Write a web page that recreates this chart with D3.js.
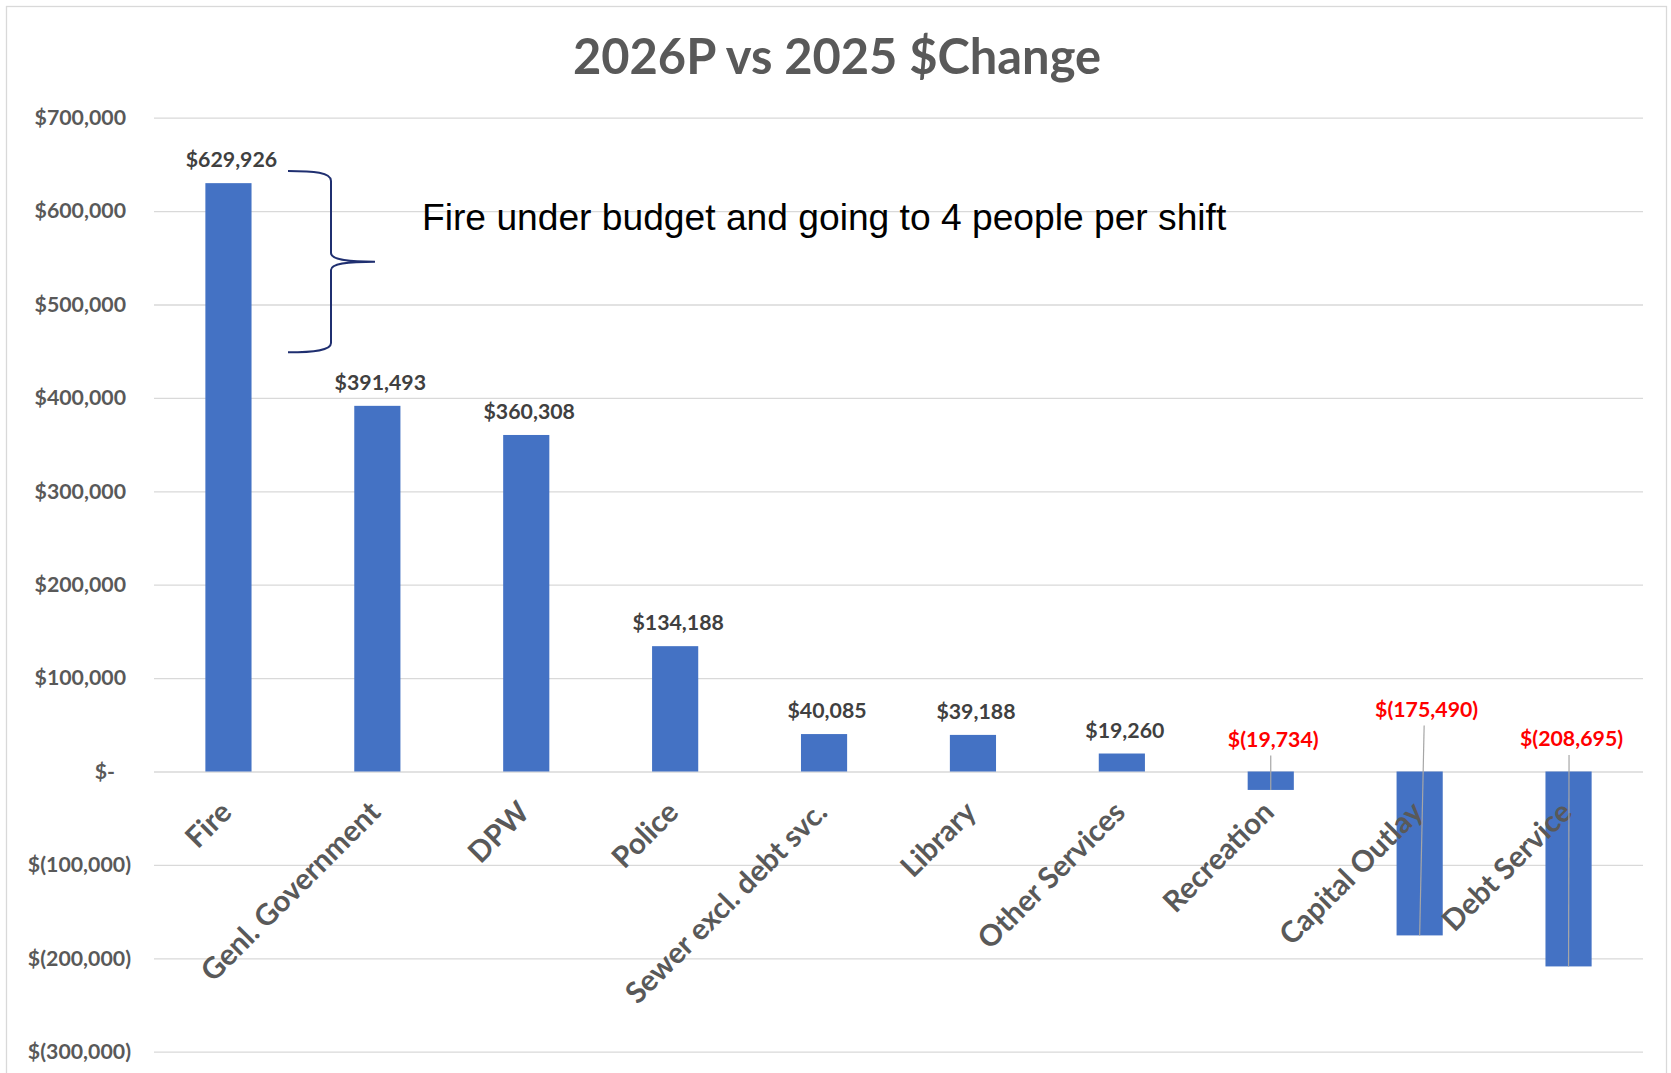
<!DOCTYPE html>
<html>
<head>
<meta charset="utf-8">
<script src="https://cdn.jsdelivr.net/npm/d3@7"></script>
<style>
  body { margin: 0; background: #fff; }
  svg { display: block; }
</style>
</head>
<body>
<svg id="chart" width="1671" height="1073"></svg>
<script>
// ---- data ----
const categories = [
  "Fire", "Genl. Government", "DPW", "Police", "Sewer excl. debt svc.",
  "Library", "Other Services", "Recreation", "Capital Outlay", "Debt Service"
];
const changes = [629926, 391493, 360308, 134188, 40085, 39188, 19260, -19734, -175490, -208695];
const yTickValues = [700000, 600000, 500000, 400000, 300000, 200000, 100000, 0, -100000, -200000, -300000];
const chartTitle = "2026P vs 2025 $Change";
const noteText = "Fire under budget and going to 4 people per shift";

// ---- layout / style ----
const plot = { left: 154, right: 1643, top: 117.7, bottom: 1051.7 };
const BAR = "#4472C4";
const GRID = "#D9D9D9";
const AXIS_TEXT = "#595959";
const LABEL_TEXT = "#404040";
const NEG_TEXT = "#FF0000";
const CAL = "Lato, 'Open Sans', sans-serif";
const VALUE_SIZE = "21.3px";

// hand-placed data labels for the negative bars (offset from bar centre / zero line)
const negLabelNudge = {
  "Recreation":     { dx: 2.5, dy: -25 },
  "Capital Outlay": { dx: 7,   dy: -55 },
  "Debt Service":   { dx: 3,   dy: -25.5 }
};

const svg = d3.select("#chart");

// chart frame
svg.append("rect")
  .attr("x", 6.5).attr("y", 6.5)
  .attr("width", 1660).attr("height", 1090)
  .attr("fill", "#fff").attr("stroke", GRID).attr("stroke-width", 1.3);

const x = d3.scaleBand()
  .domain(categories)
  .range([plot.left, plot.right])
  .paddingInner(0.69)
  .paddingOuter(0.345);

const y = d3.scaleLinear()
  .domain([-300000, 700000])
  .range([plot.bottom, plot.top]);

const money = v => {
  if (v === 0) return "$-";
  const s = d3.format(",")(Math.abs(v));
  return v < 0 ? "$(" + s + ")" : "$" + s;
};

// y axis: gridlines + accounting-style labels
const yAxis = d3.axisLeft(y)
  .tickValues(yTickValues)
  .tickSize(-(plot.right - plot.left))
  .tickPadding(23)
  .tickFormat(money);

const gy = svg.append("g")
  .attr("transform", `translate(${plot.left},0)`)
  .call(yAxis);
gy.select(".domain").remove();
gy.selectAll(".tick line").attr("stroke", GRID).attr("stroke-width", 1.3);
gy.selectAll(".tick text")
  .attr("fill", AXIS_TEXT)
  .style("font-family", CAL)
  .style("font-weight", 700)
  .style("font-size", VALUE_SIZE)
  .attr("dx", d => d > 0 ? -5 : d === 0 ? -16 : 0);

// title
svg.append("text")
  .attr("x", 837).attr("y", 74)
  .attr("text-anchor", "middle")
  .attr("fill", AXIS_TEXT)
  .style("font-family", CAL)
  .style("font-weight", 700)
  .style("font-size", "48.8px")
  .text(chartTitle);

const rows = categories.map((c, i) => ({ cat: c, value: changes[i] }));
const cx = d => x(d.cat) + x.bandwidth() / 2;

// bars
svg.append("g").selectAll("rect")
  .data(rows)
  .join("rect")
  .attr("x", d => x(d.cat))
  .attr("width", x.bandwidth())
  .attr("y", d => y(Math.max(0, d.value)))
  .attr("height", d => Math.abs(y(d.value) - y(0)))
  .attr("fill", BAR);

// category labels, rotated
svg.append("g").selectAll("text")
  .data(rows)
  .join("text")
  .attr("transform", d => `translate(${cx(d) + 5},814) rotate(-45)`)
  .attr("text-anchor", "end")
  .attr("fill", AXIS_TEXT)
  .style("font-family", CAL)
  .style("font-weight", 700)
  .style("font-size", "29.5px")
  .text(d => d.cat);

// positive value labels
const pos = rows.filter(d => d.value >= 0);
svg.append("g").selectAll("text")
  .data(pos)
  .join("text")
  .attr("x", d => cx(d) + 3)
  .attr("y", d => y(d.value) - 16)
  .attr("text-anchor", "middle")
  .attr("fill", LABEL_TEXT)
  .style("font-family", CAL)
  .style("font-weight", 700)
  .style("font-size", VALUE_SIZE)
  .text(d => money(d.value));

// negative value labels with leader lines
const neg = rows.filter(d => d.value < 0);
const labelX = d => cx(d) + negLabelNudge[d.cat].dx;
const labelY = d => y(0) + negLabelNudge[d.cat].dy;

svg.append("g").selectAll("line")
  .data(neg)
  .join("line")
  .attr("x1", d => labelX(d) - 2.5)
  .attr("y1", d => labelY(d) + 9)
  .attr("x2", d => cx(d))
  .attr("y2", d => y(d.value))
  .attr("stroke", "#A6A6A6")
  .attr("stroke-width", 1.2);

svg.append("g").selectAll("text")
  .data(neg)
  .join("text")
  .attr("x", labelX)
  .attr("y", labelY)
  .attr("text-anchor", "middle")
  .attr("fill", NEG_TEXT)
  .style("font-family", CAL)
  .style("font-weight", 700)
  .style("font-size", VALUE_SIZE)
  .text(d => money(d.value));

// annotation: curly brace beside the Fire bar, and its note
const brace = d3.path();
brace.moveTo(288, 171);
brace.bezierCurveTo(314, 171, 331, 172.5, 331, 181);
brace.lineTo(331, 253);
brace.bezierCurveTo(331, 259.5, 346, 261.7, 375, 261.7);
brace.moveTo(375, 261.7);
brace.bezierCurveTo(346, 261.7, 331, 264, 331, 270);
brace.lineTo(331, 343);
brace.bezierCurveTo(331, 350.5, 314, 352.3, 288, 352.3);

svg.append("path")
  .attr("d", brace.toString())
  .attr("fill", "none")
  .attr("stroke", "#1F2F70")
  .attr("stroke-width", 2);

svg.append("text")
  .attr("x", 422).attr("y", 229.5)
  .attr("fill", "#000")
  .style("font-family", "'Liberation Sans', Arial, sans-serif")
  .style("font-size", "37.2px")
  .text(noteText);
</script>
</body>
</html>
